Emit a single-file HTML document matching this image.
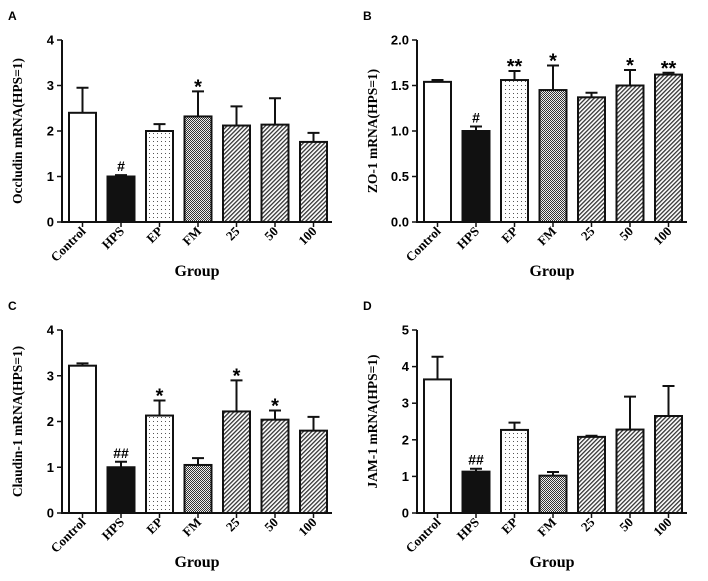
<!DOCTYPE html>
<html><head><meta charset="utf-8"><style>
body{margin:0;background:#fff;width:708px;height:576px;overflow:hidden}
svg text{font-weight:bold}
</style></head><body>
<svg id="c" width="708" height="576" xmlns="http://www.w3.org/2000/svg">
<defs>
<pattern id="dots" width="4" height="4" patternUnits="userSpaceOnUse"><rect width="4" height="4" fill="#fff"/><rect x="1" y="1" width="1" height="1" fill="#555"/></pattern>
<pattern id="check" width="2" height="2" patternUnits="userSpaceOnUse"><rect width="2" height="2" fill="#eee"/><rect width="1" height="1" fill="#333"/><rect x="1" y="1" width="1" height="1" fill="#333"/></pattern>
<pattern id="hatch" width="3" height="3" patternUnits="userSpaceOnUse" patternTransform="rotate(45)"><rect width="3" height="3" fill="#fff"/><rect width="1.3" height="3" fill="#333"/></pattern>
</defs>
</svg>
<script>
const categories=["Control","HPS","EP","FM","25","50","100"];
const fills=["#fff","#111","url(#dots)","url(#check)","url(#hatch)","url(#hatch)","url(#hatch)"];
const valuesA=[2.4,1.0,2.0,2.32,2.12,2.14,1.76];
const errA=[0.55,0.03,0.15,0.55,0.42,0.58,0.2];
const marksA=["","#","","*","","",""];
const valuesB=[1.54,1.0,1.56,1.45,1.37,1.5,1.62];
const errB=[0.02,0.05,0.1,0.27,0.05,0.17,0.02];
const marksB=["","#","**","*","","*","**"];
const valuesC=[3.22,1.0,2.13,1.05,2.22,2.04,1.8];
const errC=[0.05,0.12,0.33,0.15,0.68,0.2,0.3];
const marksC=["","##","*","","*","*",""];
const valuesD=[3.65,1.13,2.27,1.02,2.08,2.28,2.65];
const errD=[0.62,0.08,0.2,0.1,0.03,0.9,0.82];
const marksD=["","##","","","","",""];
const ticksA=["0","1","2","3","4"];
const ticksB=["0.0","0.5","1.0","1.5","2.0"];
const ticksC=["0","1","2","3","4"];
const ticksD=["0","1","2","3","4","5"];
const svg=document.getElementById('c');
const NS="http://www.w3.org/2000/svg";
function mk(t,a,p){const e=document.createElementNS(NS,t);for(const k in a)e.setAttribute(k,a[k]);(p||svg).appendChild(e);return e;}
function panel(letter,ax,y0,ytop,ticks,vals,errs,marks,ylabel,key){
  const g=mk('g',{});
  
  
  const max=parseFloat(ticks[ticks.length-1]);
  const ys=v=>y0-(v/max)*(y0-ytop);
  const step=38.5,bw=27;
  const xs=i=>ax+7+i*step;
  const lt=mk('text',{x:ax-54,y:ytop-20,'font-family':'Liberation Sans, sans-serif','font-size':12},g);lt.textContent=letter;
  
  vals.forEach((v,i)=>{
    const x=xs(i),y=ys(v);
    const r=mk('rect',{x:x,y:y,width:bw,height:y0-y,fill:fills[i],stroke:'#111','stroke-width':2},g);
    
    
    const ye=ys(v+errs[i]);
    const e=mk('path',{d:`M${x+bw/2} ${y}V${ye}M${x+bw/2-6} ${ye}H${x+bw/2+6}`,stroke:'#111','stroke-width':2,fill:'none'},g);
    
    
    if(marks[i]){const isStar=marks[i][0]=='*';const m=mk('text',{x:x+bw/2,y:ye-(isStar?-2:4),'text-anchor':'middle','font-family':'Liberation Sans, sans-serif','font-size':isStar?20:14,'font-weight':isStar?'bold':'normal'},g);m.textContent=marks[i];
      }
    const tx=x+bw/2;
    mk('line',{x1:tx,y1:y0,x2:tx,y2:y0+5,stroke:'#111','stroke-width':1.5},g);
    const l=mk('text',{x:tx+4,y:y0+10,'text-anchor':'end','font-family':'Liberation Serif, serif','font-size':13,transform:`rotate(-45 ${tx+4} ${y0+10})`},g);l.textContent=categories[i];
    
  });
  const xend=xs(6)+bw+5;
  mk('path',{d:`M${ax} ${ytop}V${y0}H${xend}`,stroke:'#111','stroke-width':2,fill:'none'},g);
  ticks.forEach(t=>{const y=ys(parseFloat(t));
    mk('line',{x1:ax-5,y1:y,x2:ax,y2:y,stroke:'#111','stroke-width':1.5},g);
    const tt=mk('text',{x:ax-8,y:y+4.5,'text-anchor':'end','font-family':'Liberation Sans, sans-serif','font-size':13},g);tt.textContent=t;
    });
  const cy=(y0+ytop)/2;
  const yl=mk('text',{x:ax-40,y:cy,'text-anchor':'middle','font-family':'Liberation Serif, serif','font-size':13.5,transform:`rotate(-90 ${ax-40} ${cy})`},g);yl.textContent=ylabel;
  
  const xt=mk('text',{x:(ax+xend)/2,y:y0+54,'text-anchor':'middle','font-family':'Liberation Serif, serif','font-size':16},g);xt.textContent='Group';
  
}
panel('A',62,222,40,ticksA,valuesA,errA,marksA,'Occludin mRNA(HPS=1)','a');
panel('B',417,222,40,ticksB,valuesB,errB,marksB,'ZO-1 mRNA(HPS=1)','b');
panel('C',62,513,330,ticksC,valuesC,errC,marksC,'Claudin-1 mRNA(HPS=1)','c');
panel('D',417,513,330,ticksD,valuesD,errD,marksD,'JAM-1 mRNA(HPS=1)','d');
</script>
</body></html>
